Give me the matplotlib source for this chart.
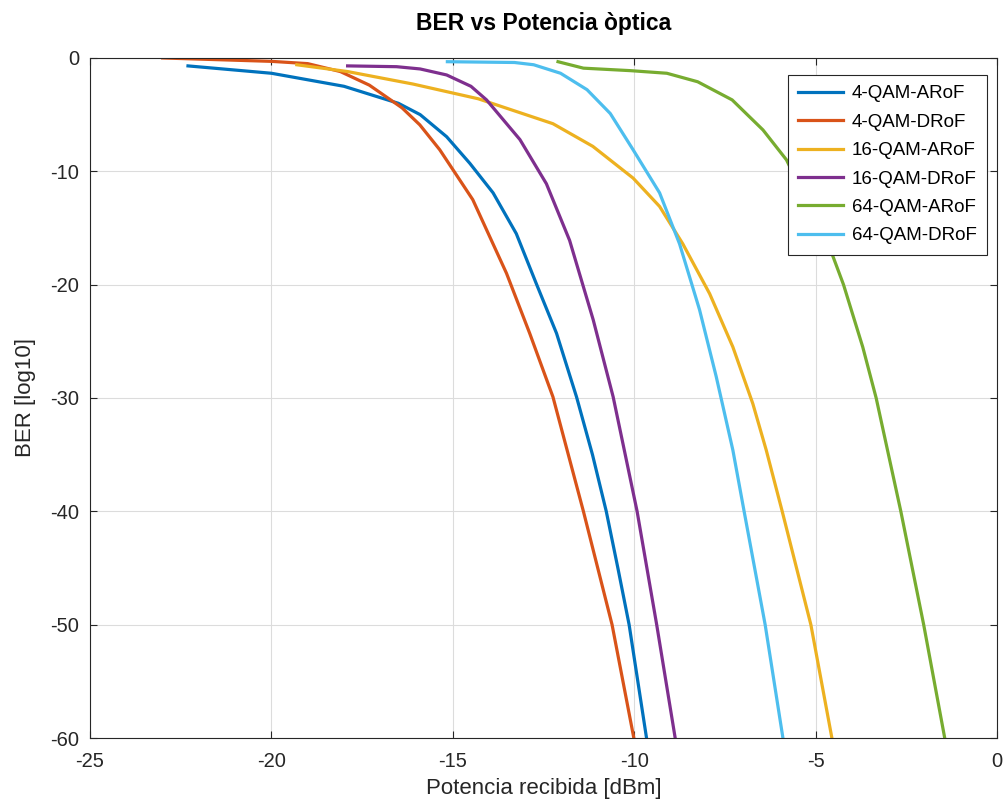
import matplotlib.pyplot as plt

plt.rcParams['font.family'] = ['Liberation Sans', 'DejaVu Sans']
plt.rcParams['axes.unicode_minus'] = False

# Curves (x: received power in dBm, y: log10 BER)
qam4_arof_x = [-22.3, -20.0, -18.0, -16.5, -15.9, -15.17, -14.53, -13.89, -13.25, -12.7, -12.14, -11.59, -11.15, -10.77, -10.45, -10.14, -9.66]
qam4_arof_y = [-0.7, -1.35, -2.5, -4.0, -5.0, -6.95, -9.3, -11.9, -15.5, -19.9, -24.3, -29.9, -35.0, -40.0, -45.0, -50.0, -60.0]

qam4_drof_x = [-23.0, -20.0, -19.0, -18.1, -17.3, -16.4, -15.91, -15.36, -14.45, -13.52, -12.88, -12.24, -11.4, -10.61, -10.01]
qam4_drof_y = [0.0, -0.3, -0.5, -1.2, -2.4, -4.4, -5.9, -8.1, -12.5, -19.0, -24.3, -29.9, -40.0, -50.0, -60.0]

qam16_arof_x = [-19.3, -17.9, -16.1, -14.3, -12.24, -11.14, -10.03, -9.3, -8.66, -7.92, -7.28, -6.73, -6.36, -5.92, -5.13, -4.55]
qam16_arof_y = [-0.6, -1.2, -2.3, -3.6, -5.8, -7.8, -10.6, -13.1, -16.4, -20.8, -25.5, -30.5, -34.6, -40.0, -50.0, -60.0]

qam16_drof_x = [-17.9, -16.55, -15.9, -15.17, -14.5, -14.07, -13.15, -12.42, -11.78, -11.13, -10.58, -9.92, -9.38, -8.87]
qam16_drof_y = [-0.7, -0.77, -0.97, -1.5, -2.5, -3.7, -7.2, -11.1, -16.1, -23.1, -29.9, -40.0, -50.0, -60.0]

qam64_arof_x = [-12.1, -11.4, -10.1, -9.1, -8.25, -7.3, -6.45, -5.8, -5.2, -4.58, -4.23, -3.7, -3.33, -2.65, -2.02, -1.44]
qam64_arof_y = [-0.33, -0.9, -1.12, -1.35, -2.1, -3.7, -6.35, -9.0, -13.0, -17.0, -20.0, -25.5, -30.0, -40.0, -50.0, -60.0]

qam64_drof_x = [-15.15, -13.3, -12.77, -12.03, -11.3, -10.66, -10.03, -9.3, -8.75, -8.2, -7.74, -7.28, -6.97, -6.39, -5.9]
qam64_drof_y = [-0.33, -0.4, -0.6, -1.35, -2.8, -4.9, -8.1, -11.9, -16.4, -22.2, -28.1, -34.6, -40.0, -50.0, -60.0]

series = [
    ('4-QAM-ARoF', qam4_arof_x, qam4_arof_y, '#0072BD'),
    ('4-QAM-DRoF', qam4_drof_x, qam4_drof_y, '#D95319'),
    ('16-QAM-ARoF', qam16_arof_x, qam16_arof_y, '#EDB120'),
    ('16-QAM-DRoF', qam16_drof_x, qam16_drof_y, '#7E2F8E'),
    ('64-QAM-ARoF', qam64_arof_x, qam64_arof_y, '#77AC30'),
    ('64-QAM-DRoF', qam64_drof_x, qam64_drof_y, '#4DBEEE'),
]

fig = plt.figure(figsize=(10.05, 8.05), dpi=100)
ax = fig.add_axes([0.0896, 0.0832, 0.9024, 0.8448])

for name, xs, ys, col in series:
    ax.plot(xs, ys, color=col, linewidth=2.3, label=name)

ax.set_xlim(-25, 0)
ax.set_ylim(-60, 0)
ax.set_xticks(range(-25, 1, 5))
ax.set_yticks(range(-60, 1, 10))
ax.grid(True, color='#dcdcdc', linewidth=0.8)
ax.tick_params(direction='in', top=True, right=True, labelsize=14.5,
               colors='#262626', length=5)
ax.tick_params(axis='x', pad=10)
ax.tick_params(axis='y', pad=8)
for s in ax.spines.values():
    s.set_color('#262626')
    s.set_linewidth(0.8)

ax.set_title('BER vs Potencia òptica', fontsize=16.5, fontweight='bold', pad=20)
ax.set_xlabel('Potencia recibida [dBm]', fontsize=16, color='#262626', labelpad=5)
ax.set_ylabel('BER [log10]', fontsize=16, color='#262626', labelpad=10)

leg = ax.legend(loc='upper right', bbox_to_anchor=(0.989, 0.975), borderaxespad=0,
                fontsize=13.5, fancybox=False, framealpha=1, edgecolor='#262626',
                handlelength=2.4, handletextpad=0.45, borderpad=0.55,
                labelspacing=0.6)
leg.get_frame().set_linewidth(0.8)

fig.savefig('out.png', dpi=100)
